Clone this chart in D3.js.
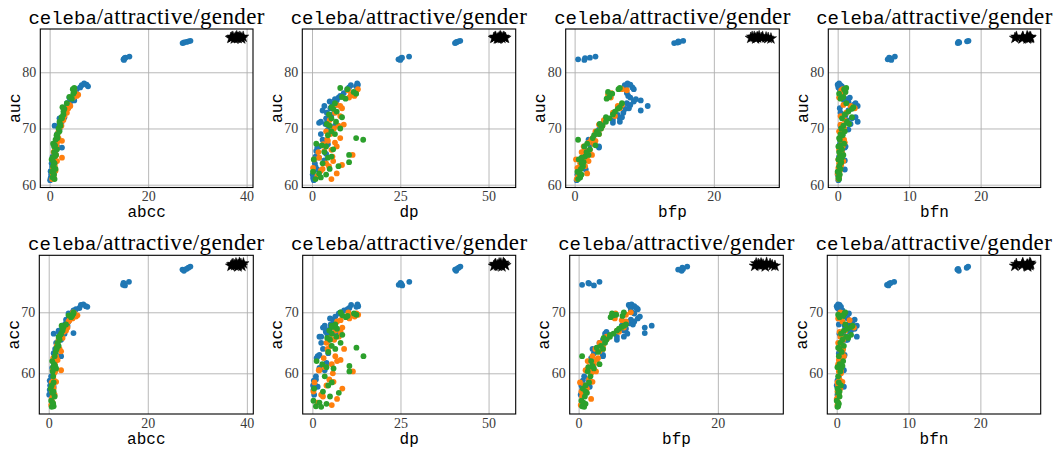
<!DOCTYPE html>
<html><head><meta charset="utf-8">
<script src="https://cdn.jsdelivr.net/npm/d3@7"></script>
<style>body{margin:0;background:#fff}</style>
</head><body><svg id="chart" width="1057" height="451"></svg>
<script>
// columns of each row: abcc, dp, bfp, bfn, auc, acc
const columns = ["abcc","dp","bfp","bfn","auc","acc"];
const xMetrics = ["abcc","dp","bfp","bfn"];
const yMetrics = ["auc","acc"];

const seriesBlue = [
[0.1,0.5,0.3,0.1,60.8,56.5],[0.2,0.3,0.5,0.2,61.2,57.3],[0.3,0.2,0.4,0.0,61.8,58.0],
[0.2,0.4,0.6,0.1,62.4,58.8],[1.0,1.5,1.6,1.0,62.7,57.8],[0.5,1.0,0.8,0.3,63.2,59.5],
[0.8,3.5,1.2,1.0,64.3,60.5],[0.7,2.0,1.5,0.4,64.8,60.9],[1.0,4.0,2.0,0.5,65.5,61.7],
[1.2,1.2,1.8,0.6,66.0,62.5],[2.5,1.5,3.5,1.0,66.6,62.8],[1.0,4.5,2.2,0.3,67.2,63.3],
[1.3,3.0,2.0,0.5,68.0,64.0],[1.5,2.5,3.0,0.7,69.0,65.0],[2.0,4.5,3.5,1.5,69.8,65.5],
[1.0,6.5,3.8,0.4,70.5,66.5],[2.0,3.8,4.0,1.8,70.8,66.8],[2.2,2.5,6.5,2.8,71.2,66.0],
[2.5,4.5,5.5,1.3,71.5,65.5],[2.0,4.0,6.5,2.0,71.8,67.0],[3.0,5.0,6.8,2.5,72.0,67.3],
[2.8,5.5,6.2,1.1,72.4,67.8],[3.2,4.2,7.0,0.4,72.8,66.5],[3.0,3.0,9.5,1.5,73.2,67.5],
[3.5,6.0,7.3,1.8,73.5,68.2],[3.3,5.2,7.8,0.3,73.6,68.0],[3.8,3.5,10.5,2.8,74.0,67.8],
[4.0,6.5,8.0,2.2,74.2,68.5],[3.5,5.8,7.5,2.5,74.5,68.8],[4.2,5.0,8.5,1.5,74.8,69.0],
[5.0,7.0,9.5,0.9,75.0,66.6],[4.5,6.5,8.8,1.2,75.2,69.3],[4.0,7.5,8.0,1.7,75.5,69.8],
[4.8,8.0,7.7,0.5,75.8,70.0],[5.0,9.0,7.5,0.8,76.3,70.3],[5.5,10.0,8.5,0.3,77.0,70.5],
[6.2,10.5,8.3,0.1,77.3,70.7],[6.5,11.0,7.2,0.4,77.7,71.2],[7.0,12.8,7.6,0.2,78.0,71.3],
[7.5,13.0,8.0,0.0,77.8,71.0],[7.8,12.5,7.4,0.6,77.5,70.9],[1.5,2.0,3.5,1.1,66.8,63.0],
[0.6,1.0,1.4,0.2,65.0,59.0],[0.4,0.8,1.0,0.3,63.8,58.0],[2.4,2.0,5.5,1.3,71.0,66.0],
[15.0,24.5,0.5,7.0,82.3,74.5],[15.2,25.2,1.5,7.3,82.5,74.7],[15.4,25.5,2.2,7.2,82.6,74.4],
[16.2,27.5,3.0,8.0,82.8,75.0],[15.1,25.0,1.4,7.5,82.2,74.8],
[27.0,40.5,14.3,16.8,85.2,77.0],[27.3,40.8,14.8,17.0,85.3,76.8],[27.8,41.0,15.0,16.9,85.4,77.1],
[28.2,41.5,14.9,18.1,85.5,77.3],[28.6,42.0,15.6,18.3,85.6,77.5]
];

const seriesOrange = [
[0.5,5.5,0.3,0.1,61.0,54.8],[0.8,1.5,0.5,0.2,61.5,55.2],[0.6,7.0,1.8,0.0,62.0,55.8],
[1.2,2.5,0.6,0.3,62.5,56.5],[0.7,0.3,0.4,0.1,63.0,57.0],[1.0,8.5,1.2,0.5,63.5,57.5],
[0.9,4.0,0.8,0.2,63.8,58.0],[1.5,6.0,2.0,0.8,64.2,58.6],[2.5,2.0,1.6,0.4,64.8,60.5],
[1.3,11.5,2.5,0.3,65.3,60.3],[0.8,1.8,1.0,0.6,65.8,60.5],[1.2,5.5,2.2,0.2,66.2,61.5],
[1.4,7.0,1.3,0.7,66.8,62.0],[0.9,3.2,2.8,0.5,67.2,62.5],[2.5,4.5,3.0,0.8,67.8,63.6],
[1.8,8.0,2.6,0.3,68.3,62.2],[1.6,5.2,3.5,0.6,69.0,64.5],[2.0,6.2,3.8,0.9,70.0,65.5],
[2.2,9.0,3.5,0.4,70.7,64.0],[2.8,5.0,4.2,1.0,71.5,65.8],[3.0,8.0,5.8,0.4,72.2,66.8],
[3.5,6.5,5.5,1.2,72.8,67.0],[3.8,8.5,6.5,2.4,73.6,67.5],[4.0,7.0,6.8,0.8,74.2,68.5],
[4.8,10.5,5.2,0.2,75.5,69.0],[5.5,12.0,5.0,0.3,75.8,69.3],[5.8,11.0,4.8,0.6,76.0,69.5],
[5.2,12.5,5.3,0.9,76.3,69.8],[4.9,10.2,7.5,0.5,76.8,70.0],[5.0,13.0,6.8,0.7,77.0,69.6],
[0.6,0.6,0.2,0.1,64.5,58.5],[1.0,3.5,1.4,0.3,66.0,61.0],[1.7,4.3,2.4,0.9,68.0,64.0],
[0.8,3.0,0.5,0.2,62.8,56.2],[1.1,5.8,1.8,0.6,65.0,60.0],[1.8,4.0,3.0,0.2,69.5,65.0],
[2.4,7.5,4.0,0.5,70.5,66.0],[4.2,8.0,6.2,1.8,74.0,68.7],[1.0,4.8,1.5,0.4,63.3,59.0],
[1.5,6.5,2.0,1.0,67.5,62.8]
];

const seriesGreen = [
[1.0,1.0,0.5,0.2,61.0,54.6],[0.6,2.5,0.8,0.1,61.3,54.5],[0.9,4.0,1.0,0.3,61.8,55.0],
[0.5,0.3,0.4,0.0,62.3,55.5],[1.2,5.0,0.9,0.4,62.8,56.2],[0.7,7.5,1.2,0.2,63.3,56.8],
[0.8,10.5,1.3,0.5,64.0,60.3],[0.4,0.5,0.6,0.1,64.5,57.5],[1.0,5.5,1.5,0.3,65.0,58.5],
[1.3,10.5,2.0,0.8,65.3,61.2],[0.9,3.5,1.7,0.2,65.8,59.5],[1.5,6.0,2.2,0.6,66.3,60.8],
[1.1,2.8,3.0,0.4,67.0,61.5],[0.7,1.2,1.8,0.9,67.3,62.0],[1.2,14.5,0.5,0.3,68.0,62.8],
[1.6,12.5,2.6,0.2,68.3,64.2],[1.4,4.5,2.8,0.7,68.8,63.5],[2.0,5.5,3.2,1.0,69.5,64.5],
[1.8,8.0,3.8,0.5,70.0,65.0],[2.2,5.0,4.0,0.8,70.5,65.5],[2.0,6.8,4.5,1.3,71.2,66.0],
[2.5,5.5,5.0,0.6,71.8,66.5],[2.8,4.8,5.5,1.0,72.5,67.0],[2.8,7.0,5.8,1.5,73.0,67.3],
[3.0,6.0,6.2,2.0,73.5,67.6],[2.6,5.5,6.5,2.2,73.8,67.8],[3.5,6.5,6.8,1.2,74.5,68.0],
[4.5,9.5,4.6,0.4,75.3,69.2],[4.0,8.5,5.0,0.8,75.6,69.5],[4.8,12.5,5.4,0.2,76.2,69.6],
[5.0,11.8,4.8,1.1,76.5,69.8],[5.0,8.0,6.5,1.2,77.2,70.0],[4.7,10.0,6.3,0.9,77.0,69.4],
[0.8,2.0,0.7,0.2,62.0,55.2],[1.0,3.0,1.0,0.4,63.8,57.0],[0.9,4.0,1.4,0.1,66.8,61.0],
[1.6,6.5,3.5,0.4,69.0,64.0],[0.6,4.5,1.0,0.6,64.8,58.0],[2.1,4.2,3.6,1.6,70.8,65.8],
[2.4,8.5,4.5,2.0,72.0,66.3]
];

const seriesStar = [
[36.8,51.5,25.3,24.8,86.1,77.6],[37.2,52.0,25.8,25.0,86.3,77.9],[37.5,52.5,26.0,25.8,86.0,77.7],
[37.8,53.0,26.2,25.9,86.2,78.0],[38.0,53.3,26.5,26.5,86.4,77.8],[38.2,53.8,26.8,26.6,86.1,77.5],
[38.5,54.2,27.0,26.9,86.3,78.1],[38.8,54.5,27.5,27.0,86.2,77.9],[39.0,52.8,28.2,26.5,86.0,77.6],
[39.3,53.5,25.5,25.9,86.3,78.0],[37.0,51.8,26.3,26.6,86.2,77.8],[38.3,54.8,27.8,26.9,86.1,77.7]
];

const xTicksAbcc = [0,20,40];
const xTicksDp = [0,25,50];
const xTicksBfp = [0,20];
const xTicksBfn = [0,10,20];
const yTicksAuc = [60,70,80];
const yTicksAcc = [60,70];
const titleDataset = "celeba";
const titleRest = "/attractive/gender";

const xTicksList = [xTicksAbcc, xTicksDp, xTicksBfp, xTicksBfn];
const yTicksList = [yTicksAuc, yTicksAcc];

// layout
const xDomains = [[-1.9,41.3],[-2.75,57.7],[-1.28,29.4],[-1.31,28.4]];
const yDomains = [[59.5,87.7],[53.33,79.34]];
const frameX = [
  [[40.3,253],[302.3,515.7],[565.7,779.3],[828.3,1040.7]],
  [[39.3,253.3],[302.7,515.7],[569.7,783.3],[827.3,1040.7]]
];
const frameY = [[29,187.5],[255.3,414]];

const svg = d3.select("#chart");
svg.append("rect").attr("width",1057).attr("height",451).attr("fill","#fff");

const circleSeries = [
  {rows: seriesBlue, color: "#1f77b4"},
  {rows: seriesOrange, color: "#ff7f0e"},
  {rows: seriesGreen, color: "#2ca02c"}
];

const monoFont = "'Liberation Mono', 'DejaVu Sans Mono', monospace";
const serifFont = "'Liberation Serif', 'DejaVu Serif', serif";

yMetrics.forEach((ym, r) => {
  xMetrics.forEach((xm, c) => {
    const [x0, x1] = frameX[r][c];
    const [y0, y1] = frameY[r];
    const xs = d3.scaleLinear().domain(xDomains[c]).range([x0, x1]);
    const ys = d3.scaleLinear().domain(yDomains[r]).range([y1, y0]);
    const xi = columns.indexOf(xm), yi = columns.indexOf(ym);
    const g = svg.append("g");
    const clipId = `clip-${r}-${c}`;
    g.append("clipPath").attr("id", clipId).append("rect")
      .attr("x", x0).attr("y", y0).attr("width", x1 - x0).attr("height", y1 - y0);

    // grid
    g.append("g").attr("transform", `translate(0,${y1})`)
      .call(d3.axisBottom(xs).tickValues(xTicksList[c]).tickSize(-(y1 - y0)).tickFormat(""))
      .call(s => s.select(".domain").remove())
      .call(s => s.selectAll("line").attr("stroke", "#b0b0b0").attr("stroke-width", 0.9));
    g.append("g").attr("transform", `translate(${x0},0)`)
      .call(d3.axisLeft(ys).tickValues(yTicksList[r]).tickSize(-(x1 - x0)).tickFormat(""))
      .call(s => s.select(".domain").remove())
      .call(s => s.selectAll("line").attr("stroke", "#b0b0b0").attr("stroke-width", 0.9));

    // tick labels
    g.append("g").attr("transform", `translate(0,${y1})`)
      .call(d3.axisBottom(xs).tickValues(xTicksList[c]).tickSize(0).tickPadding(4).tickFormat(d3.format("d")))
      .call(s => s.select(".domain").remove())
      .call(s => s.selectAll("text").attr("font-family", serifFont).attr("font-size", 14).attr("fill", "#3a3a3a"));
    g.append("g").attr("transform", `translate(${x0},0)`)
      .call(d3.axisLeft(ys).tickValues(yTicksList[r]).tickSize(0).tickPadding(4).tickFormat(d3.format("d")))
      .call(s => s.select(".domain").remove())
      .call(s => s.selectAll("text").attr("font-family", serifFont).attr("font-size", 14).attr("fill", "#3a3a3a"));

    // points
    const pts = g.append("g").attr("clip-path", `url(#${clipId})`);
    circleSeries.forEach(sr => {
      pts.selectAll(null).data(sr.rows).join("circle")
        .attr("cx", d => xs(d[xi])).attr("cy", d => ys(d[yi]))
        .attr("r", 2.9).attr("fill", sr.color);
    });
    const star = d3.symbol().type(d3.symbolStar).size(40);
    pts.selectAll(null).data(seriesStar).join("path")
      .attr("d", star)
      .attr("transform", d => `translate(${xs(d[xi])},${ys(d[yi])})`)
      .attr("fill", "#000").attr("stroke", "#000").attr("stroke-width", 0.5);

    // frame
    g.append("rect").attr("x", x0).attr("y", y0).attr("width", x1 - x0).attr("height", y1 - y0)
      .attr("fill", "none").attr("stroke", "#000").attr("stroke-width", 1.1);

    // title
    const cx = (x0 + x1) / 2;
    const t = g.append("text").attr("x", cx).attr("y", y0 - 5).attr("text-anchor", "middle").attr("fill", "#000");
    t.append("tspan").attr("font-family", monoFont).attr("font-size", 19).text(titleDataset);
    t.append("tspan").attr("font-family", serifFont).attr("font-size", 23).attr("letter-spacing", 0.4).text(titleRest);

    // axis labels
    g.append("text").attr("x", cx).attr("y", y1 + 29.5).attr("text-anchor", "middle")
      .attr("font-family", monoFont).attr("font-size", 16).attr("fill", "#000").text(xm);
    g.append("text").attr("transform", `translate(${x0 - 20.5},${(y0 + y1) / 2}) rotate(-90)`)
      .attr("text-anchor", "middle").attr("font-family", monoFont).attr("font-size", 16.5)
      .attr("fill", "#000").text(ym);
  });
});
</script></body></html>
